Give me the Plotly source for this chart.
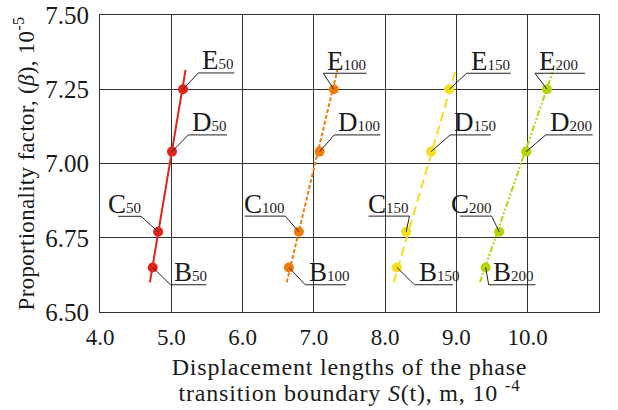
import plotly.graph_objects as go

# ---- data ----
series = ["50", "100", "150", "200"]
point_names = ["B", "C", "D", "E"]
beta = [6.65, 6.77, 7.04, 7.25]
s_50 = [4.74, 4.815, 5.01, 5.165]
s_100 = [6.65, 6.79, 7.08, 7.28]
s_150 = [8.165, 8.295, 8.645, 8.90]
s_200 = [9.41, 9.60, 9.98, 10.27]
trend_beta = [6.60, 7.315]
trend_50 = [4.70, 5.20]
trend_100 = [6.62, 7.33]
trend_150 = [8.12, 8.99]
trend_200 = [9.33, 10.36]
x_ticks = [4.0, 5.0, 6.0, 7.0, 8.0, 9.0, 10.0, 11.0]
y_ticks = [6.50, 6.75, 7.00, 7.25, 7.50]

# ---- style ----
colors = ["#e2231a", "#f07c0c", "#f6df1a", "#b6d40c"]
dashes = ["solid", "4px,2px", "9px,5px", "6px,2px,2px,2px,2px,2px"]
xs = [s_50, s_100, s_150, s_200]
txs = [trend_50, trend_100, trend_150, trend_200]
# label offsets (pixels): leader end dx, dy (screen, down +), underline x0, x1
offsets = {
    "50": [(17.7, 17.3, 17.7, 53.7), (-17, -15.5, -40, -17), (16.3, -16.7, 16.3, 55), (15.3, -16.3, 15.3, 51.3)],
    "100": [(16.3, 17.3, 16.3, 57), (-13.7, -15.7, -54, -13.7), (14.7, -16.7, 14.7, 60.7), (-10.6, -16, -10.6, 32.7)],
    "150": [(17.6, 17.3, 17.6, 56), (3.3, -15.7, -37.7, 3.3), (19, -16.7, 19, 59.7), (17.4, -16, 17.4, 61.4)],
    "200": [(3, 17.3, 3, 49.7), (-7.6, -15.7, -39.3, -7.6), (19.4, -16.7, 19.4, 66.4), (-12, -16, -12, 38)],
}

serif = "Liberation Serif, Times New Roman, serif"
fig = go.Figure()
shapes = []
annotations = []
for k, name in enumerate(series):
    fig.add_trace(go.Scatter(x=txs[k], y=trend_beta, mode="lines",
                             line=dict(color=colors[k], width=2, dash=dashes[k]),
                             showlegend=False, hoverinfo="skip"))
    fig.add_trace(go.Scatter(x=xs[k], y=beta, mode="markers",
                             marker=dict(color=colors[k], size=10),
                             showlegend=False, name="S" + name))
    for i, p in enumerate(point_names):
        dx, dy, u0, u1 = offsets[name][i]
        px, py = xs[k][i], beta[i]
        common = dict(type="line", xref="x", yref="y", xsizemode="pixel", ysizemode="pixel",
                      xanchor=px, yanchor=py, line=dict(color="#222222", width=1))
        shapes.append(dict(common, x0=0, y0=0, x1=dx, y1=-dy))
        shapes.append(dict(common, x0=u0, y0=-dy, x1=u1, y1=-dy))
        left_side = (u1 - dx) < 1e-6 and u0 < dx
        text = p + "<span style='font-size:15px'>" + name + "</span>"
        if left_side:
            ann = dict(xanchor="right", xshift=u1 + 1)
        else:
            ann = dict(xanchor="left", xshift=u0 + 3)
        annotations.append(dict(ann, x=px, y=py, xref="x", yref="y", text=text,
                                showarrow=False, yanchor="bottom", yshift=-dy - 3.5,
                                borderpad=0, font=dict(family=serif, size=27, color="#1a1a1a")))

x_title = ("<span style='font-size:24px;letter-spacing:0.8px'>Displacement lengths of the phase</span><br>"
           "<span style='font-size:24px;letter-spacing:0.8px'>transition boundary <i>S</i>(t), m, 10 <sup>-4</sup></span>")
y_title = "<span style='letter-spacing:0.3px'>Proportionality factor, (<i>β</i>), 10<sup>-5</sup></span>"

fig.update_layout(
    width=618, height=410,
    margin=dict(l=100, r=19, t=15, b=98),
    paper_bgcolor="white", plot_bgcolor="white",
    font=dict(family=serif, size=23, color="#1a1a1a"),
    shapes=shapes, annotations=annotations,
)
fig.update_xaxes(range=[4.0, 11.0], tickvals=x_ticks,
                 ticktext=["%.1f" % v for v in x_ticks],
                 tickfont=dict(size=23), ticklabelstandoff=4,
                 showgrid=True, gridcolor="#333333", gridwidth=1,
                 showline=True, linecolor="#333333", mirror=True, ticks="",
                 zeroline=False, automargin=False,
                 title=dict(text=x_title, font=dict(size=20.6), standoff=11))
fig.update_yaxes(range=[6.50, 7.50], tickvals=y_ticks,
                 ticktext=["%.2f" % v for v in y_ticks],
                 tickfont=dict(size=25), ticklabelstandoff=5,
                 showgrid=True, gridcolor="#333333", gridwidth=1,
                 showline=True, linecolor="#333333", mirror=True, ticks="",
                 zeroline=False, automargin=False,
                 title=dict(text=y_title, font=dict(size=23), standoff=4))
fig.write_html("out.html")
